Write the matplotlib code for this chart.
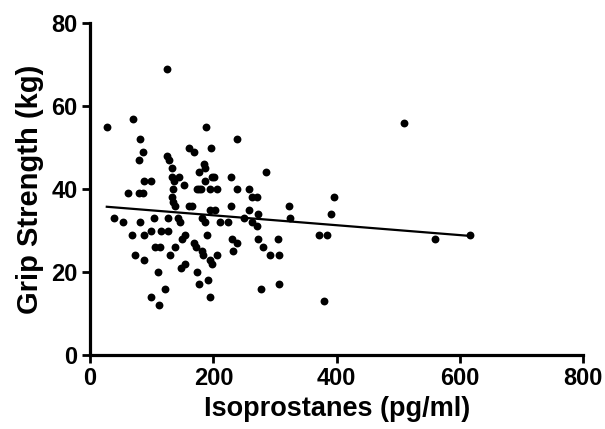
import matplotlib
matplotlib.use("Agg")
import matplotlib.pyplot as plt

# Isoprostanes (pg/ml) vs grip strength (kg)
isoprostanes = [27, 70, 81, 86, 80, 124, 128, 160, 168, 132, 176, 87, 99, 133, 136,
                144, 153, 135, 173, 62, 80, 86, 133, 135, 160, 165, 138, 39, 54, 81,
                103, 127, 142, 145, 68, 87, 99, 115, 127, 154, 149, 168, 172, 106, 114,
                137, 72, 88, 129, 154, 147, 110, 122, 99, 112, 181, 187, 195, 203, 210,
                223, 249, 263, 271, 273, 257, 325, 189, 181, 183, 206, 230, 238, 231, 273,
                280, 305, 292, 306, 195, 198, 174, 176, 192, 194, 277, 307, 188, 238, 196,
                185, 187, 187, 198, 201, 229, 286, 176, 180, 195, 206, 238, 257, 263, 271,
                229, 322, 396, 391, 372, 384, 510, 560, 617, 379, 125]
grip = [55, 57, 52, 49, 47, 48, 47, 50, 49, 45, 44, 42, 42, 43, 42,
        43, 41, 40, 40, 39, 39, 39, 38, 37, 36, 36, 36, 33, 32, 32,
        33, 33, 33, 32, 29, 29, 30, 30, 30, 29, 28, 27, 26, 26, 26,
        26, 24, 23, 24, 22, 21, 20, 16, 14, 12, 33, 32, 35, 35, 32,
        32, 33, 32, 31, 34, 35, 33, 29, 25, 24, 24, 28, 27, 25, 28,
        26, 28, 24, 24, 23, 22, 20, 17, 18, 14, 16, 17, 55, 52, 50,
        46, 45, 42, 43, 43, 43, 44, 40, 40, 40, 40, 40, 40, 38, 38,
        36, 36, 38, 34, 29, 29, 56, 28, 29, 13, 69]

# linear regression line as drawn in the figure
fit_intercept = 36.06
fit_slope = -0.01193

x_ticks = [0, 200, 400, 600, 800]
y_ticks = [0, 20, 40, 60, 80]

plt.rcParams['font.family'] = ['Liberation Sans', 'DejaVu Sans']
plt.rcParams['font.weight'] = 'bold'

fig = plt.figure(figsize=(6.05, 4.29), dpi=100)
ax = fig.add_axes([0.149, 0.1725, 0.815, 0.7735])

ax.scatter(isoprostanes, grip, s=32, color='black', zorder=3, linewidths=0)

x0, x1 = min(isoprostanes), max(isoprostanes)
ax.plot([x0, x1], [fit_intercept + fit_slope * x0, fit_intercept + fit_slope * x1],
        color='black', lw=1.6, zorder=2)

ax.set_xlim(0, 800)
ax.set_ylim(0, 80)
ax.set_xticks(x_ticks)
ax.set_yticks(y_ticks)

for side in ['top', 'right']:
    ax.spines[side].set_visible(False)
for side in ['left', 'bottom']:
    ax.spines[side].set_linewidth(2.3)
ax.tick_params(width=2.0, length=6, labelsize=17, direction='out', pad=3)
for lbl in ax.get_xticklabels() + ax.get_yticklabels():
    lbl.set_fontweight('bold')

ax.set_xlabel('Isoprostanes (pg/ml)', fontsize=19.5, fontweight='bold', labelpad=4)
ax.set_ylabel('Grip Strength (kg)', fontsize=21, fontweight='bold', labelpad=5)

fig.savefig('out.png', dpi=100)
